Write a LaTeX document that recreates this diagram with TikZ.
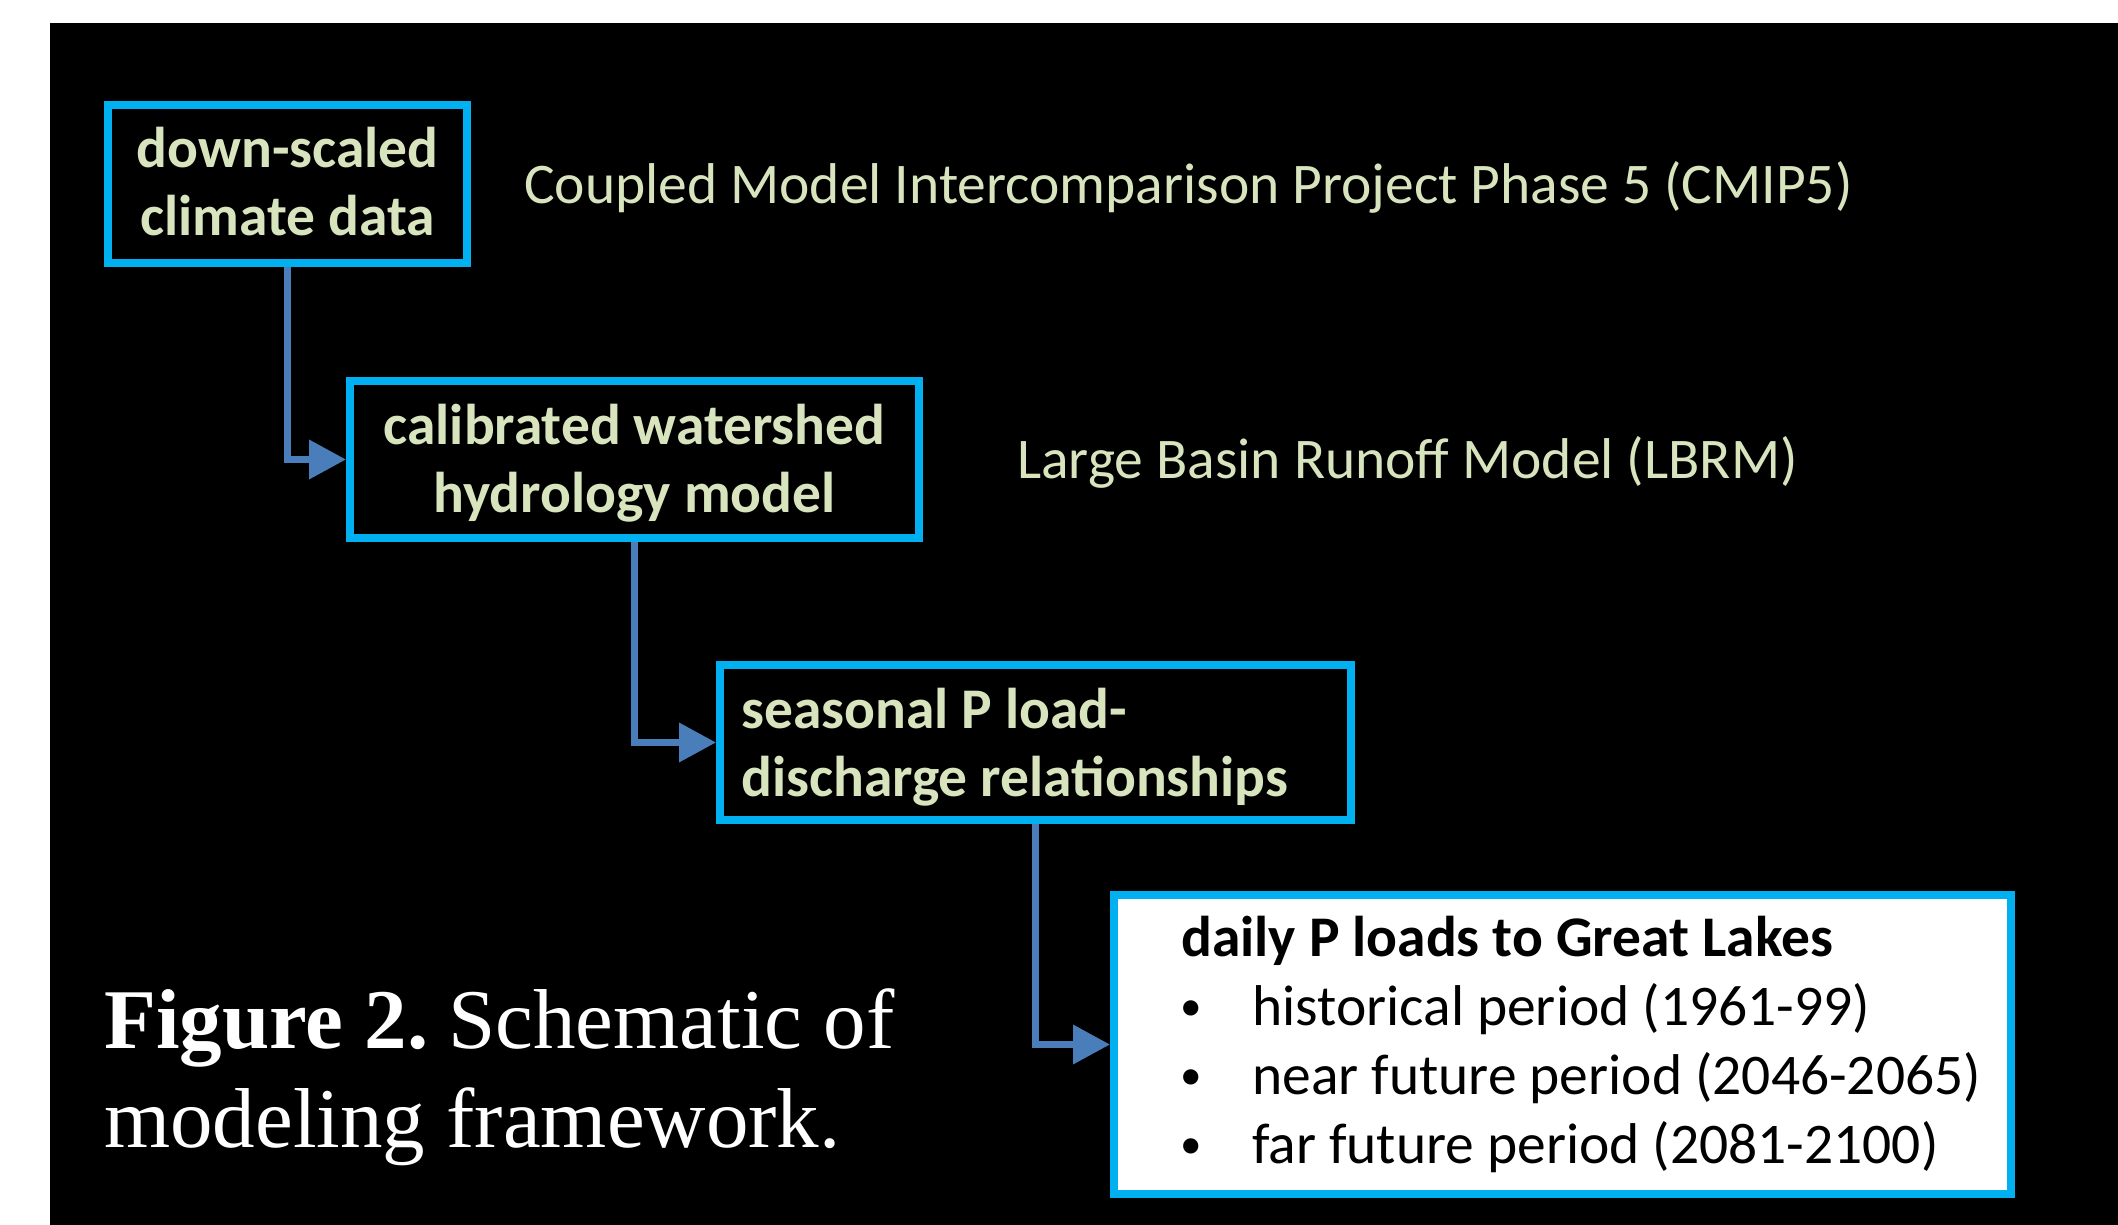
\documentclass[tikz,border=0pt]{standalone}
\usepackage{fontspec}
\newfontfamily\calib{Carlito}
\newfontfamily\tnr{Liberation Serif}
\usetikzlibrary{arrows.meta}
\definecolor{bordercyan}{HTML}{00B0F0}
\definecolor{linkblue}{HTML}{4A7EBB}
\definecolor{palegreen}{HTML}{D7E4BD}
\newcommand{\smallbullet}{\makebox[70pt][l]{\hspace{9pt}\makebox[0pt][c]{\raisebox{0.07em}{\scalebox{0.75}{•}}}}}
\tikzset{
  boxnode/.style={draw=bordercyan, line width=8pt, rectangle, inner sep=0pt, fill=black},
  boxtext/.style={text=palegreen, font=\calib\bfseries\fontsize{57.5}{68}\selectfont, inner sep=0pt},
  sidetext/.style={text=palegreen, font=\calib\fontsize{57.5}{68}\selectfont, inner sep=0pt, anchor=base west},
  listtext/.style={text=black, font=\calib\fontsize{57.5}{68}\selectfont, inner sep=0pt, anchor=base west},
  listhead/.style={text=black, font=\calib\bfseries\fontsize{57.5}{68}\selectfont, inner sep=0pt, anchor=base west},
  captext/.style={text=white, font=\tnr\fontsize{85}{99}\selectfont, inner sep=0pt, anchor=base west},
  link/.style={draw=linkblue, line width=7pt, -{Triangle[length=37pt,width=38pt]}},
}
\begin{document}
\begin{tikzpicture}[x=1pt,y=-1pt]
\useasboundingbox (0,0) rectangle (2118,1225);
\fill[white] (0,0) rectangle (2118,1225);
\fill[black] (50,23) rectangle (2118,1225);

% boxes
\node[boxnode, minimum width=359pt, minimum height=158pt] (b1) at (287.5,184) {};
\node[boxnode, minimum width=569pt, minimum height=157pt] (b2) at (634.5,459.5) {};
\node[boxnode, minimum width=631pt, minimum height=155pt] (b3) at (1035.5,742.5) {};
\node[boxnode, fill=white, minimum width=897pt, minimum height=299pt] (b4) at (1562.5,1044.5) {};

% connectors
\draw[link] (b1.south) |- (b2.west);
\draw[link] (b2.south) |- (b3.west);
\draw[link] (b3.south) |- (b4.west);

% box texts
\node[boxtext, anchor=base] (t1a) at (287.5,168) {down-scaled};
\node[boxtext, anchor=base] (t1b) at (287.5,236) {climate data};
\node[boxtext, anchor=base] (t2a) at (634.5,444) {calibrated watershed};
\node[boxtext, anchor=base] (t2b) at (634.5,512) {hydrology model};
\node[boxtext, anchor=base west] (t3a) at (741,728) {seasonal P load-};
\node[boxtext, anchor=base west] (t3b) at (741,796) {discharge relationships};

\node[listhead] (t4a) at (1181,956) {daily P loads to Great Lakes};
\node[listtext] (t4b) at (1182,1025) {\smallbullet historical period (1961-99)};
\node[listtext] (t4c) at (1182,1094) {\smallbullet near future period (2046-2065)};
\node[listtext] (t4d) at (1182,1163) {\smallbullet far future period (2081-2100)};

% side labels
\node[sidetext] (cmip) at (524,204) {Coupled Model Intercomparison Project Phase 5 (CMIP5)};
\node[sidetext] (lbrm) at (1017,478) {Large Basin Runoff Model (LBRM)};

% caption
\node[captext] (cap1) at (104,1048) {\textbf{Figure 2.}\hspace{20pt}Schematic of};
\node[captext] (cap2) at (104,1147) {modeling framework.};
\end{tikzpicture}
\end{document}
